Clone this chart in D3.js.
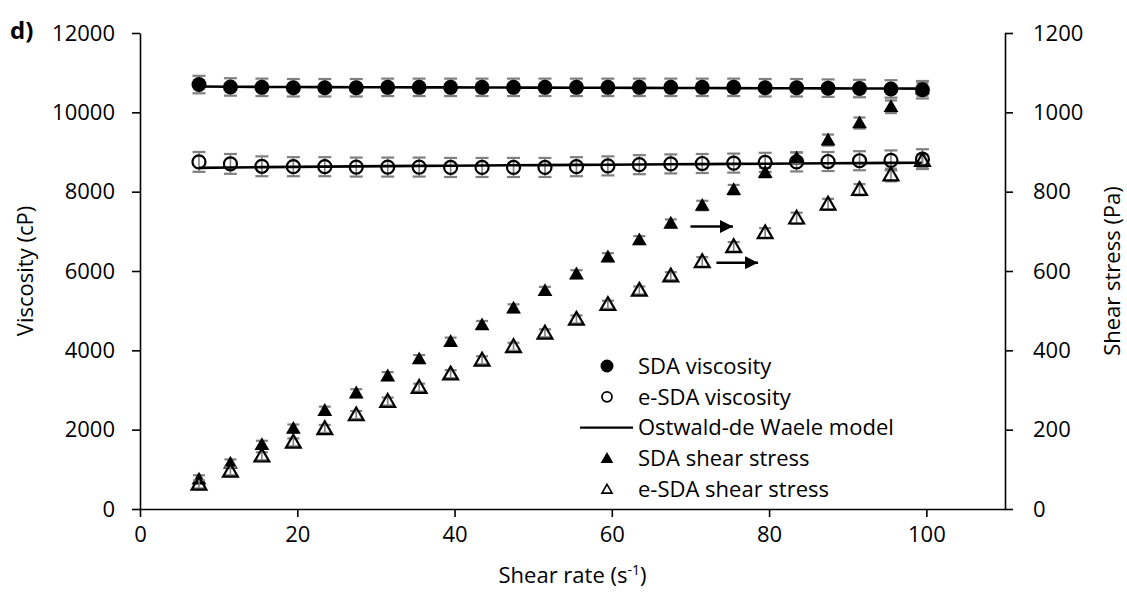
<!DOCTYPE html>
<html>
<head>
<meta charset="utf-8">
<script src="https://cdn.jsdelivr.net/npm/d3@7"></script>
<style>
  body { margin: 0; background: #fff; }
  text { font-family: "Open Sans", sans-serif; fill: #000; }
</style>
</head>
<body>
<div id="chart-area"></div>
<script>
// shear rate (s-1)
const shearRate = [7.5, 11.5, 15.5, 19.5, 23.5, 27.5, 31.5, 35.5, 39.5, 43.5, 47.5, 51.5,
                   55.5, 59.5, 63.5, 67.5, 71.5, 75.5, 79.5, 83.5, 87.5, 91.5, 95.5, 99.5]

// viscosity (cP), left axis
const sdaVisc = [10700, 10640, 10630, 10620, 10620, 10620, 10630, 10630, 10630, 10630, 10630, 10630,
                 10630, 10630, 10630, 10630, 10630, 10630, 10620, 10620, 10610, 10600, 10590, 10570]
const sdaViscErr = [220, 220, 220, 220, 220, 220, 220, 220, 220, 220, 220, 220,
                    220, 220, 220, 220, 220, 220, 220, 220, 220, 220, 220, 220]
const esdaVisc = [8750, 8700, 8640, 8630, 8630, 8620, 8620, 8620, 8610, 8610, 8610, 8610,
                  8630, 8650, 8680, 8700, 8710, 8720, 8740, 8750, 8760, 8780, 8790, 8820]
const esdaViscErr = [250, 250, 250, 240, 240, 240, 240, 240, 240, 240, 240, 240,
                     240, 240, 240, 240, 240, 240, 240, 240, 240, 240, 250, 250]

// Ostwald-de Waele model fits (cP)
const sdaModel = [10650, 10645, 10640, 10638, 10636, 10634, 10632, 10630, 10628, 10626, 10624, 10622,
                  10620, 10618, 10616, 10614, 10612, 10610, 10608, 10606, 10604, 10602, 10600, 10598]
const esdaModel = [8600, 8610, 8618, 8625, 8632, 8638, 8644, 8650, 8655, 8660, 8665, 8670,
                   8675, 8680, 8685, 8690, 8695, 8700, 8705, 8710, 8715, 8720, 8725, 8730]

// shear stress (Pa), right axis
const sdaStress = [75, 115, 162, 203, 248, 292, 335, 378, 422, 464, 506, 550,
                   592, 635, 678, 720, 765, 805, 848, 885, 930, 973, 1014, 1058]
const esdaStress = [62, 95, 133, 168, 202, 237, 271, 306, 340, 375, 409, 443,
                    478, 515, 551, 587, 623, 661, 696, 733, 768, 805, 842, 878]
const stressErr = [10, 10, 10, 10, 10, 10, 10, 10, 10, 10, 10, 10,
                   10, 10, 10, 10, 12, 12, 12, 14, 14, 14, 16, 16]

const xTicks = [0, 20, 40, 60, 80, 100]
const yLeftTicks = [0, 2000, 4000, 6000, 8000, 10000, 12000]
const yRightTicks = [0, 200, 400, 600, 800, 1000, 1200]

// arrows pointing to the right axis (shear rate from/to, stress)
const arrows = [
  { x1: 70.0, x2: 75.4, y: 712 },
  { x1: 73.3, x2: 78.6, y: 621 }
]

const legendItems = ["SDA viscosity", "e-SDA viscosity", "Ostwald-de Waele model",
                     "SDA shear stress", "e-SDA shear stress"]

const width = 1127, height = 596
const margin = { top: 33, right: 122, bottom: 87, left: 140 }

const svg = d3.select("#chart-area").append("svg")
  .attr("width", width).attr("height", height)

const x = d3.scaleLinear().domain([0, 110]).range([margin.left, width - margin.right])
const yL = d3.scaleLinear().domain([0, 12000]).range([height - margin.bottom, margin.top])
const yR = d3.scaleLinear().domain([0, 1200]).range([height - margin.bottom, margin.top])

// axes
const styleAxis = g => {
  g.select(".domain").attr("stroke", "#000").attr("stroke-width", 1.6)
  g.selectAll(".tick line").attr("stroke", "#000").attr("stroke-width", 1.6)
  g.selectAll(".tick text").attr("font-size", "22px").attr("font-family", "Open Sans")
}
const fmt = d3.format("d")

svg.append("g")
  .attr("transform", `translate(0, ${yL(0)})`)
  .call(d3.axisBottom(x).tickValues(xTicks).tickFormat(fmt).tickSize(8).tickSizeOuter(0).tickPadding(9))
  .call(styleAxis)

svg.append("g")
  .attr("transform", `translate(${x(0)}, 0)`)
  .call(d3.axisLeft(yL).tickValues(yLeftTicks).tickFormat(fmt).tickSize(8).tickSizeOuter(0).tickPadding(17))
  .call(styleAxis)

svg.append("g")
  .attr("transform", `translate(${x(110)}, 0)`)
  .call(d3.axisRight(yR).tickValues(yRightTicks).tickFormat(fmt).tickSize(8).tickSizeOuter(0).tickPadding(20))
  .call(styleAxis)

// axis titles
const xTitle = svg.append("text")
  .attr("x", (x(0) + x(110)) / 2).attr("y", 583)
  .attr("text-anchor", "middle").attr("font-size", "22px")
xTitle.append("tspan").text("Shear rate (s")
xTitle.append("tspan").attr("dy", -8).attr("font-size", "14px").text("-1")
xTitle.append("tspan").attr("dy", 8).text(")")

svg.append("text")
  .attr("transform", `translate(33, ${(yL(0) + yL(12000)) / 2}) rotate(-90)`)
  .attr("text-anchor", "middle").attr("font-size", "22px")
  .text("Viscosity (cP)")

svg.append("text")
  .attr("transform", `translate(1120, ${(yL(0) + yL(12000)) / 2}) rotate(-90)`)
  .attr("text-anchor", "middle").attr("font-size", "22px")
  .text("Shear stress (Pa)")

svg.append("text")
  .attr("x", 10).attr("y", 39)
  .style("font-size", "24px").style("font-weight", "bold")
  .text("d)")

// helpers
const ERR = "#808080"
function errorBars(vals, errs, yScale, cap) {
  const g = svg.append("g")
  shearRate.forEach((s, i) => {
    const cx = x(s), top = yScale(vals[i] + errs[i]), bot = yScale(vals[i] - errs[i])
    g.append("line").attr("x1", cx).attr("x2", cx).attr("y1", top).attr("y2", bot)
      .attr("stroke", ERR).attr("stroke-width", 1.6)
    ;[top, bot].forEach(yy => g.append("line")
      .attr("x1", cx - cap).attr("x2", cx + cap).attr("y1", yy).attr("y2", yy)
      .attr("stroke", ERR).attr("stroke-width", 2.2))
  })
}

errorBars(sdaVisc, sdaViscErr, yL, 6.5)
errorBars(esdaVisc, esdaViscErr, yL, 6.5)

// model lines
const line = d3.line().x((d, i) => x(shearRate[i])).y(d => yL(d))
;[sdaModel, esdaModel].forEach(m => svg.append("path")
  .datum(m).attr("d", line)
  .attr("fill", "none").attr("stroke", "#000").attr("stroke-width", 2.6))

// stress error bars + triangles
const tri = d3.symbol().type(d3.symbolTriangle).size(95)
errorBars(sdaStress, stressErr, yR, 6)
svg.append("g").selectAll("path").data(sdaStress).join("path")
  .attr("d", tri)
  .attr("transform", (d, i) => `translate(${x(shearRate[i])}, ${yR(d) + 1})`)
  .attr("fill", "#000")

errorBars(esdaStress, stressErr, yR, 6)
svg.append("g").selectAll("path").data(esdaStress).join("path")
  .attr("d", tri)
  .attr("transform", (d, i) => `translate(${x(shearRate[i])}, ${yR(d) + 1})`)
  .attr("fill", "none").attr("stroke", "#000").attr("stroke-width", 2.2)

// viscosity circles
svg.append("g").selectAll("circle").data(sdaVisc).join("circle")
  .attr("cx", (d, i) => x(shearRate[i])).attr("cy", d => yL(d))
  .attr("r", 7.5).attr("fill", "#000")

svg.append("g").selectAll("circle").data(esdaVisc).join("circle")
  .attr("cx", (d, i) => x(shearRate[i])).attr("cy", d => yL(d))
  .attr("r", 6.5).attr("fill", "none").attr("stroke", "#000").attr("stroke-width", 2.2)

// arrows
const defs = svg.append("defs")
defs.append("marker")
  .attr("id", "arrowhead").attr("viewBox", "0 0 10 10")
  .attr("refX", 10).attr("refY", 5)
  .attr("markerWidth", 5.2).attr("markerHeight", 5.2)
  .attr("markerUnits", "strokeWidth").attr("orient", "auto")
  .append("path").attr("d", "M0,0 L10,5 L0,10 Z").attr("fill", "#000")

svg.append("g").selectAll("line").data(arrows).join("line")
  .attr("x1", d => x(d.x1)).attr("x2", d => x(d.x2))
  .attr("y1", d => yR(d.y)).attr("y2", d => yR(d.y))
  .attr("stroke", "#000").attr("stroke-width", 2.5)
  .attr("marker-end", "url(#arrowhead)")

// legend
const lgX = 607, lgTextX = 638, lgY0 = 366, lgStep = 30.8
const lg = svg.append("g")
legendItems.forEach((label, i) => {
  const yy = lgY0 + i * lgStep
  if (i === 0) lg.append("circle").attr("cx", lgX).attr("cy", yy).attr("r", 6.5).attr("fill", "#000")
  if (i === 1) lg.append("circle").attr("cx", lgX).attr("cy", yy).attr("r", 5)
    .attr("fill", "none").attr("stroke", "#000").attr("stroke-width", 1.8)
  if (i === 2) lg.append("line").attr("x1", 580).attr("x2", 633).attr("y1", yy).attr("y2", yy)
    .attr("stroke", "#000").attr("stroke-width", 2.2)
  if (i === 3) lg.append("path").attr("d", d3.symbol().type(d3.symbolTriangle).size(70))
    .attr("transform", `translate(${lgX}, ${yy + 1})`).attr("fill", "#000")
  if (i === 4) lg.append("path").attr("d", d3.symbol().type(d3.symbolTriangle).size(45))
    .attr("transform", `translate(${lgX}, ${yy + 1})`).attr("fill", "none")
    .attr("stroke", "#000").attr("stroke-width", 1.6)
  lg.append("text").attr("x", lgTextX).attr("y", yy)
    .attr("dy", "0.35em").attr("font-size", "22px").text(label)
})
</script>
</body>
</html>
